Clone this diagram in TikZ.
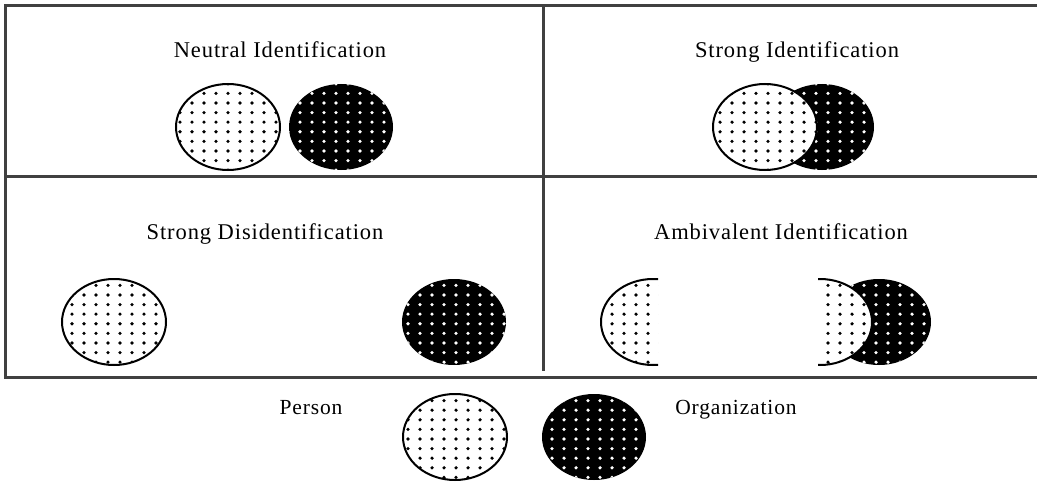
\documentclass[tikz,border=0pt]{standalone}
\usepackage{fontspec}
\setmainfont{Liberation Serif}[LetterSpace=4]
\usetikzlibrary{shapes.geometric, patterns.meta}

\tikzdeclarepattern{
  name=spotgrid,
  type=uncolored,
  bottom left={(-6pt,-5pt)},
  top right={(6pt,5pt)},
  tile size={(12pt,9.6pt)},
  code={\fill (0,0) circle (1.8pt);}
}

\begin{document}
\begin{tikzpicture}[x=1pt, y=-1pt,
                    frame/.style={line width=3pt, black!75},
                    blob/.style={ellipse, minimum width=104pt, minimum height=86pt, inner sep=0pt},
                    person/.style={blob, draw, line width=2pt, fill=white,
                                   postaction={pattern=spotgrid, pattern color=black}},
                    org/.style={blob, fill=black,
                                postaction={pattern=spotgrid, pattern color=white}},
                    title/.style={font=\fontsize{22.5}{24}\selectfont, anchor=base},
                    caption/.style={font=\fontsize{21.5}{24}\selectfont, anchor=base}]

            \useasboundingbox (0,0) rectangle (1037,487);

            \coordinate (tl) at (5,6);
            \coordinate (tr) at (1037,6);
            \coordinate (ml) at (5,176);
            \coordinate (mr) at (1037,176);
            \coordinate (bl) at (5,377);
            \coordinate (br) at (1037,377);
            \coordinate (dt) at (543,6);
            \coordinate (db) at (543,371);

            \draw[frame] (tr) -- (tl) -- (bl) -- (br);
            \draw[frame] (ml) -- (mr);
            \draw[frame] (dt) -- (db);

            \node[title] (tneu) at (280,58)  {Neutral Identification};
            \node[title] (tstr) at (797,58)  {Strong Identification};
            \node[title] (tdis) at (265,239) {Strong Disidentification};
            \node[title] (tamb) at (781,239) {Ambivalent Identification};

            \node[person] (neup) at (228,127) {};
            \node[org]    (neuo) at (341,127) {};

            \node[org]    (stro) at (822,127) {};
            \node[person] (strp) at (765,127) {};

            \node[person] (disp) at (114,322) {};
            \node[org]    (diso) at (454,322) {};

            \begin{scope}
                \clip (590,270) rectangle (658,372);
                \node[person] (ambl) at (653,322) {};
            \end{scope}
            \node[org] (ambo) at (879,322) {};
            \begin{scope}
                \clip (818,270) rectangle (940,372);
                \node[person] (ambr) at (820,322) {};
            \end{scope}

            \node[caption] (lblp) at (311,414) {Person};
            \node[caption] (lblo) at (736,414) {Organization};
            \node[person] (keyp) at (455,437) {};
            \node[org]    (keyo) at (594,437) {};
        \end{tikzpicture}
\end{document}
